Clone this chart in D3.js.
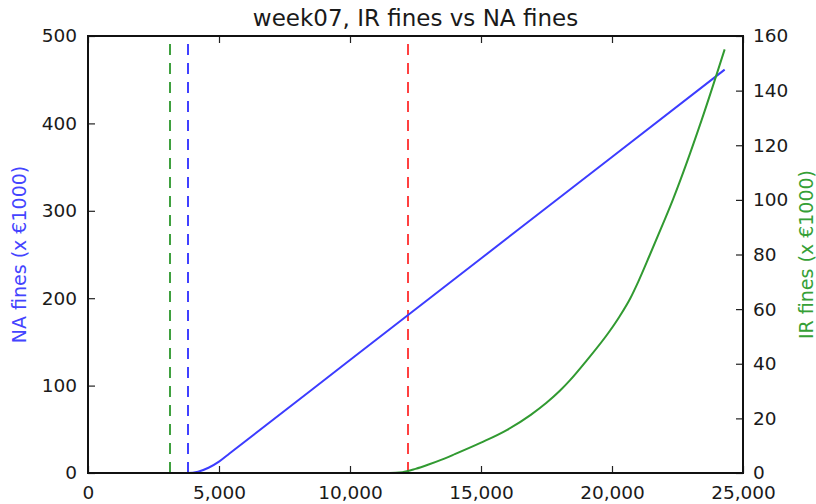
<!DOCTYPE html>
<html>
<head>
<meta charset="utf-8">
<script src="https://cdn.jsdelivr.net/npm/d3@7"></script>
<style>
  body { margin: 0; background: #fff; }
  text { font-family: "DejaVu Sans", sans-serif; }
</style>
</head>
<body>
<div id="chart"></div>
<script>
// NA fines (left axis, x €1000) by amount
const naX = [0, 3800, 4200, 4600, 5000, 5400, 10000, 15000, 20000, 24300];
const naY = [0, 0, 1.5, 6, 13, 22.3, 129.2, 245.4, 361.6, 461.5];

// IR fines (right axis, x €1000)
const irX = [0, 11500, 12000, 12500, 13000, 13500, 14000, 15000, 16000, 16900, 17500, 18000, 18400, 19000, 19900, 20300, 20700, 21000, 21450, 22000, 22340, 23420, 24300];
const irY = [0, 0, 0.3, 1.5, 3.1, 4.9, 6.9, 11.1, 15.8, 21.3, 25.7, 30, 34, 40.8, 51.8, 57.5, 64, 70, 80, 92.5, 100.5, 129.2, 155.1];

// vertical dashed markers
const markerX = [3130, 3817, 12214];
const markerColor = ["#3fa03f", "#4040ff", "#ff4040"];

const xTicks = [0, 5000, 10000, 15000, 20000, 25000];
const leftTicks = [0, 100, 200, 300, 400, 500];
const rightTicks = [0, 20, 40, 60, 80, 100, 120, 140, 160];

const W = 816, H = 504;
const margin = { top: 36, right: 73, bottom: 31, left: 88 };
const width = W - margin.left - margin.right;
const height = H - margin.top - margin.bottom;

const svg = d3.select("#chart").append("svg")
    .attr("width", W)
    .attr("height", H);

const g = svg.append("g")
    .attr("transform", `translate(${margin.left},${margin.top})`);

const x = d3.scaleLinear().domain([0, 25000]).range([0, width]);
const yL = d3.scaleLinear().domain([0, 500]).range([height, 0]);
const yR = d3.scaleLinear().domain([0, 160]).range([height, 0]);

// dashed markers
g.selectAll(".marker")
    .data(markerX)
    .enter().append("line")
    .attr("x1", d => x(d)).attr("x2", d => x(d))
    .attr("y1", height).attr("y2", 0)
    .attr("stroke", (d, i) => markerColor[i])
    .attr("stroke-width", 2)
    .attr("stroke-dasharray", "11,8");

const line = d3.line().curve(d3.curveMonotoneX);

g.append("path")
    .attr("d", line(naX.map((v, i) => [x(v), yL(naY[i])])))
    .attr("fill", "none")
    .attr("stroke", "#3c3cff")
    .attr("stroke-width", 2);

g.append("path")
    .attr("d", line(irX.map((v, i) => [x(v), yR(irY[i])])))
    .attr("fill", "none")
    .attr("stroke", "#319a31")
    .attr("stroke-width", 2);

// axes (ticks point inward)
const fmt = d3.format(",");
const xb = g.append("g")
    .attr("transform", `translate(0,${height})`)
    .call(d3.axisBottom(x).tickValues(xTicks).tickFormat(fmt).tickSizeInner(-7).tickSizeOuter(0).tickPadding(13));
const xt = g.append("g")
    .call(d3.axisTop(x).tickValues(xTicks).tickFormat("").tickSizeInner(-7).tickSizeOuter(0));
const yl = g.append("g")
    .call(d3.axisLeft(yL).tickValues(leftTicks).tickSizeInner(-7).tickSizeOuter(0).tickPadding(11));
const yr = g.append("g")
    .attr("transform", `translate(${width},0)`)
    .call(d3.axisRight(yR).tickValues(rightTicks).tickSizeInner(-7).tickSizeOuter(0).tickPadding(10));

[xb, xt, yl, yr].forEach(a => {
    a.select(".domain").remove();
    a.selectAll(".tick line").attr("stroke", "#222").attr("stroke-width", 1.2);
    a.selectAll("text")
        .attr("font-size", "18.5px")
        .attr("font-family", "DejaVu Sans, sans-serif")
        .attr("fill", "#1a1a1a");
});

// frame
g.append("rect")
    .attr("width", width)
    .attr("height", height)
    .attr("fill", "none")
    .attr("stroke", "#111")
    .attr("stroke-width", 2);

// title and labels
svg.append("text")
    .attr("x", margin.left + width / 2)
    .attr("y", 26)
    .attr("text-anchor", "middle")
    .attr("font-size", "23px")
    .attr("fill", "#1a1a1a")
    .text("week07, IR fines vs NA fines");

svg.append("text")
    .attr("transform", `translate(26,${margin.top + height / 2}) rotate(-90)`)
    .attr("text-anchor", "middle")
    .attr("font-size", "19px")
    .attr("fill", "#4444ff")
    .text("NA fines (x €1000)");

svg.append("text")
    .attr("transform", `translate(813,${margin.top + height / 2}) rotate(-90)`)
    .attr("text-anchor", "middle")
    .attr("font-size", "19px")
    .attr("fill", "#36a036")
    .text("IR fines (x €1000)");
</script>
</body>
</html>
